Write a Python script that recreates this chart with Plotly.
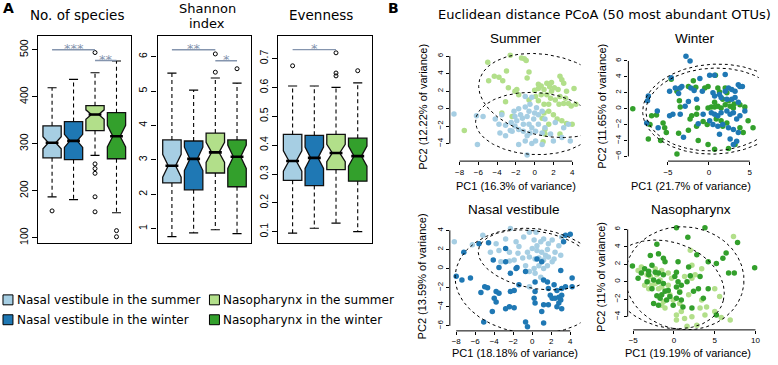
import numpy as np
import plotly.graph_objects as go

W, H = 778, 365

# ---------------- Panel A data (box statistics) ----------------
groups = ["Nasal vestibule in the summer", "Nasal vestibule in the winter",
          "Nasopharynx in the summer", "Nasopharynx in the winter"]
colors = ["#A6CEE3", "#1F78B4", "#B2DF8A", "#33A02C"]
positions = [1, 2, 3, 4]

sp_q1 = [270, 266, 328, 268]
sp_med = [302, 306, 362, 316]
sp_q3 = [338, 347, 381, 366]
sp_lo = [187, 181, 275, 153]
sp_hi = [419, 437, 451, 476]
sp_notch = [13, 14, 10, 23]
sp_out_x = [1, 3, 3, 3, 3, 3, 3, 4, 4]
sp_out_y = [157, 494, 257, 247, 237, 187, 155, 115, 102]

sh_q1 = [2.33, 2.13, 2.62, 2.22]
sh_med = [2.83, 3.03, 3.22, 3.09]
sh_q3 = [3.58, 3.55, 3.78, 3.58]
sh_lo = [0.77, 0.88, 0.97, 0.86]
sh_hi = [5.52, 5.03, 5.38, 5.23]
sh_notch = [0.33, 0.34, 0.29, 0.34]
sh_out_x = [3, 3, 4]
sh_out_y = [6.08, 5.55, 5.65]

ev_q1 = [0.278, 0.260, 0.315, 0.275]
ev_med = [0.345, 0.356, 0.373, 0.362]
ev_q3 = [0.437, 0.434, 0.437, 0.424]
ev_lo = [0.095, 0.112, 0.130, 0.100]
ev_hi = [0.605, 0.605, 0.600, 0.616]
ev_notch = [0.035, 0.037, 0.030, 0.035]
ev_out_x = [1, 3, 3, 3, 4]
ev_out_y = [0.675, 0.720, 0.650, 0.640, 0.658]

sp_sig = [(1, 3, 500, "***"), (3, 4, 477, "**")]
sh_sig = [(1, 3, 6.20, "**"), (3, 4, 5.88, "*")]
ev_sig = [(1, 3, 0.731, "*")]

# ---------------- Panel B data (PCoA scores) ----------------
su_ns_x = [-5.0, -2.6, -1.4, -1.1, -0.9, -3.0, -4.3, -3.8, -0.6, -0.8, -4.9, -3.4, -2.8, -2.1, -1.9,
           0.0, 0.4, 0.7, 1.3, 1.8, 2.7, 2.9, 1.6, 2.1, 2.5, 1.0, 1.8, 3.1, 4.2, 3.4, -1.7, 0.1, 0.7,
           1.3, 1.7, 2.2, 2.7, 3.3, -3.1, -0.6, 0.4, 1.0, 1.5, 2.6, 3.1, 3.6, 3.9, -3.5, -2.4, 1.0,
           1.5, 2.0, 0.8, 2.4, 2.9, 3.4, 4.0, 1.5, 1.1, -7.5, 1.1, 2.7, 0.9, 4.4, 0.4]
su_ns_y = [5.3, 6.1, 5.8, 5.7, 5.5, 4.3, 3.7, 3.6, 4.2, 3.5, 3.2, 3.2, 2.4, 2.0, 2.2,
           2.1, 2.3, 2.6, 2.9, 3.0, 3.7, 3.3, 2.5, 2.4, 2.2, 2.2, 2.0, 2.9, 2.3, 2.0, 1.6, 1.4, 1.6,
           1.6, 1.2, 1.0, 1.4, 1.2, 0.8, 1.0, 0.9, 0.5, 0.5, 0.5, 0.6, 0.6, 0.3, -0.5, -0.9, -0.5,
           -0.3, -0.7, -1.1, -1.2, -1.4, -1.7, -1.8, -1.8, -2.4, -2.5, -2.9, -2.9, -3.8, 0.5, 2.8]
su_nv_x = [-8.6, -6.1, -0.8, -6.2, -5.5, -4.2, -3.8, -3.1, -2.5, -1.9, -1.3, -0.8, -0.6, -1.0, -0.5,
           -1.7, -2.2, -3.5, 0.0, 0.4, 0.8, 0.2, -1.0, -0.3, -0.6, -0.3, 0.1, -0.5, -0.8, -1.2, -1.7,
           -2.1, -2.4, 0.4, 0.8, 1.1, 2.2, 1.7, 2.9, 2.0, 0.1, -0.3, 0.8, -3.1, -2.6, -3.7, 3.1, 3.6,
           -0.1, -1.2, -2.1, -1.5, 3.8, 1.1, -1.0, -1.7]
su_nv_y = [-0.6, -4.1, -5.3, -0.8, -0.9, -1.2, -1.8, -1.9, -1.6, -1.4, -1.1, -0.9, -0.3, 0.2, 0.5,
           0.0, -0.3, -0.7, -0.5, -0.7, -0.3, 0.1, 1.4, 1.3, -1.8, -2.2, -2.6, -2.8, -3.1, -2.6, -2.4,
           -2.0, -2.6, -1.8, -2.8, -2.2, -1.6, -2.9, -3.3, -3.7, -3.7, -4.0, -4.1, -3.1, -2.5, -2.8, -2.2, -1.8,
           -1.2, -1.8, -0.9, -0.7, -3.7, -1.2, -3.7, -4.1]

wi_nv_x = [-2.8, -2.3, -4.6, -1.1, 0.1, 0.7, 2.0, 3.6, -4.8, -4.1, -3.5, -3.3, -2.2, -1.8, -0.8,
           -2.5, -1.5, 0.5, 0.7, 1.3, 2.0, 2.4, 2.8, 3.2, 3.8, 4.1, 1.5, 2.2, 2.8, 3.2, 3.6, -7.4,
           -7.5, -6.3, -4.8, -4.4, -3.5, 0.3, 0.7, 1.1, 1.5, 2.2, 2.6, 3.0, 3.4, 3.8, 4.4, -1.3, 0.1,
           0.5, 1.1, 1.7, -6.2, -7.6, 2.4, 3.0, 3.6, 1.3, -3.1, 2.6, 3.4, 3.0, -2.9, -3.7, -0.7]
wi_nv_y = [6.6, 6.0, 3.9, 3.8, 4.2, 4.2, 4.3, 3.0, 2.2, 2.6, 2.6, 2.8, 2.6, 2.3, 2.2,
           0.9, 1.2, 2.0, 1.6, 1.8, 2.2, 2.6, 2.4, 2.2, 2.8, 2.8, 1.4, 1.2, 1.2, 1.4, 0.8, 1.6,
           1.0, -0.3, -0.9, -0.7, -0.7, -0.5, -0.7, -0.9, -0.5, -0.3, -0.7, -0.5, -1.3, -0.9, -0.3, -1.9, -1.5,
           -2.0, -2.2, -2.0, -2.4, -1.8, -2.4, -2.6, -3.0, -3.2, -3.6, -3.8, -4.1, -4.5, 0.3, 1.9, -0.7]
wi_np_x = [-9.3, -4.6, -3.9, -2.5, -0.1, 0.8, -0.5, -3.6, -3.5, -1.6, 1.1, 2.0, 2.2, 1.3, -0.1,
           0.3, 0.7, 1.1, 1.5, 2.0, 2.6, 3.0, 3.8, 4.4, 0.7, 1.7, 2.4, 3.1, -7.0, -6.4, -7.2, -5.6,
           -2.1, -1.5, -2.3, -0.7, -0.2, 0.9, 1.5, 2.2, 1.7, -5.4, -5.2, -3.7, -2.5, -1.5, 3.8, 4.2,
           5.4, -7.4, -5.9, -3.9, -1.3, 0.7, 2.4, 3.2, -0.1, -1.9, 4.8, -1.4]
wi_np_y = [0.0, 3.7, 2.2, 2.8, 2.8, 4.2, 2.6, 1.0, 0.2, 2.7, 2.6, 2.6, 2.0, 2.1, 0.1,
           0.2, 0.2, 0.3, 0.1, 0.5, 0.3, 0.1, 0.5, 0.2, 0.8, 1.2, 1.0, 0.6, -0.9, -0.8, -2.0, -1.8,
           -0.9, -0.7, -1.3, -1.6, -2.0, -1.3, -1.5, -1.8, -2.2, -2.4, -3.0, -3.1, -2.7, -2.2, -2.4, -3.0,
           -2.4, -3.8, -4.0, -5.7, -4.0, -5.1, -5.0, -4.5, -4.5, 3.5, -1.5, 0.1]

nv_su_x = [-8.2, -6.3, -5.2, -2.3, -0.3, 0.4, -3.8, -2.8, -1.7, -0.9, 0.2, 0.9, 1.2, 1.7, 2.1,
           2.8, 3.1, -4.4, -3.5, -2.4, -1.5, -0.5, 0.0, 0.5, 1.0, 1.6, 2.4, -3.3, -2.4, -1.9, -1.0,
           -0.3, 0.3, 0.7, 1.2, 1.7, 2.1, 0.2, 0.7, 1.2, 1.6, 0.3, 0.9, -0.3, -0.7, -0.3, 0.5, 1.4,
           2.3, -1.4, 3.0]
nv_su_y = [2.8, 2.5, 3.5, 4.2, 3.8, 3.8, 2.6, 3.1, 2.8, 3.3, 3.0, 2.8, 3.1, 2.6, 3.0,
           2.4, 3.3, 1.7, 1.9, 1.7, 1.6, 1.7, 2.1, 1.9, 1.7, 2.0, 1.7, 0.7, 0.8, 0.9, 1.1,
           1.2, 1.0, 1.1, 0.9, 1.2, 0.7, 0.0, 0.3, 0.0, 0.3, -0.5, -0.9, -0.3, 0.3, -1.9, 2.4, 1.4,
           1.0, 2.3, 1.4]
nv_wi_x = [-7.2, -5.6, -4.6, -8.0, -7.4, -6.5, -4.1, -2.8, -3.5, -2.3, -1.6, -0.7, -5.0, -4.7, -5.4,
           -3.8, -3.5, -2.3, -1.9, -4.0, -3.8, -2.4, -1.9, -4.2, -2.8, 0.3, 0.2, 0.3, 1.7, 1.2, 1.6,
           2.3, 2.6, 3.1, 3.5, 4.2, 4.2, 1.9, 2.1, 1.7, 1.2, 1.0, 2.4, 2.8, 3.1, 3.0, 2.8, 2.6, 3.1,
           -5.1, -0.7, -0.5, 1.2, 3.0, 1.0, 3.5, 4.0, 3.3, -1.7, -2.8, 0.3, 0.5, -1.4]
nv_wi_y = [1.7, 2.6, 2.7, -0.8, -1.2, -1.0, 0.9, 2.1, 0.1, -0.5, 0.1, -0.3, -1.9, -2.0, -2.5,
           -2.4, -2.6, -2.4, -2.3, -3.1, -3.5, -4.0, -4.1, -4.5, -4.2, -2.4, -3.1, -3.6, -2.1, -1.2, -1.4,
           -1.7, -2.3, -2.1, -1.9, -1.0, -1.9, -2.8, -3.1, -3.8, -3.8, -4.5, -3.1, -3.0, -2.8, -3.3, -3.6, -4.0, -4.2,
           -5.6, -5.6, -6.1, -5.7, -0.2, 0.7, 3.5, 3.6, 2.8, 0.0, 0.7, -1.4, 1.0, -1.7]

np_su_x = [7.3, 2.0, 2.2, -4.4, -4.0, -3.3, -2.9, -3.6, -3.1, -1.5, -0.7, -0.3, -2.7, -2.3, -1.9,
           -1.5, -0.7, -0.9, -0.5, -0.1, 0.7, 1.3, 2.2, 2.6, 3.4, 3.2, 5.0, 5.6, -1.5, -1.1, 0.3,
           0.9, 2.2, 3.8, 5.0, 5.8, 1.6, 2.8, 6.9, -2.3, -4.0, -1.7, -2.1, -1.3, 1.8, 1.3, 3.4, 4.0,
           0.3, -3.2, 0.7]
np_su_y = [5.2, 3.6, 1.9, 1.3, 1.7, 0.8, 0.6, -0.4, -0.8, 1.3, 1.0, 0.4, -0.4, -0.2, -0.8,
           -0.6, -0.4, -1.0, -1.5, -2.1, -2.5, 0.6, 0.4, 0.8, 1.5, -3.0, -0.8, -1.7, -2.7, -3.0, -3.8,
           -3.4, -4.0, -3.8, -3.4, -4.1, -5.1, -5.0, -4.4, 1.5, 1.1, 0.2, 0.8, -2.3, -1.5, -4.2, -2.1, -2.9,
           -4.4, 0.0, -1.1]
np_wi_x = [0.3, 3.8, 1.7, 7.8, 6.4, 9.9, -2.1, -1.9, -2.9, -5.1, -3.6, -3.1, -2.7, -1.3, -1.1,
           0.5, 1.8, 5.2, 6.0, 6.7, 7.4, -4.0, -3.1, -2.3, -1.9, -1.3, -4.4, -3.3, -2.5, -1.9, -1.3,
           0.3, 0.1, 0.5, 0.9, 1.6, 2.0, 3.2, -2.7, -2.1, -1.5, -1.1, -0.7, -1.7, -0.9, -0.5, 0.3,
           0.9, -2.5, -1.9, -0.1, 0.3, 0.7, 2.2, 3.6, 4.2, 5.2, 2.4, 3.0, 2.8, 4.2, 1.1]
np_wi_y = [6.2, 6.2, 5.1, 4.5, 3.3, 1.6, 4.3, 3.2, 3.0, 1.8, 1.5, 1.2, 1.9, 2.7, 2.3,
           2.3, 1.7, 2.1, 2.7, 1.0, 1.0, 1.0, 0.8, 1.1, 1.0, 0.8, 0.4, 0.0, 0.2, 0.0, -0.2,
           1.1, 0.6, 0.0, -0.4, 0.0, 0.7, 0.6, -0.8, -1.6, -1.5, -1.1, -1.0, -1.9, -2.1, -1.7, -1.9,
           -2.1, -2.5, -2.7, -2.7, -0.6, -1.2, -3.0, -1.9, -0.8, -3.8, -1.1, -0.8, 3.1, 2.3, -2.9]

# ellipse parameters: centre x, centre y, semi-axis a, semi-axis b, angle (deg)
su_ell = [(1.3, 1.5, 7.4, 4.6, -14), (0.0, -1.7, 6.3, 3.55, -3)]
wi_ell = [(0.75, -0.05, 8.85, 5.65, 3), (0.55, -0.1, 8.25, 5.2, 3)]
nv_ell = [(0.45, 0.9, 6.2, 3.0, -10), (-0.13, -1.3, 8.0, 5.5, -5)]
np_ell = [(1.3, 0.4, 7.3, 5.9, -5), (-0.9, -0.3, 7.2, 4.9, -15)]

# ---------------- figure ----------------
fig = go.Figure()

def fx(px):
    return px / W

def fy(py):
    return 1 - py / H

BOXW = 0.85
NOTCHW = 0.3
CAPHW = 0.21

def add_boxes(ax, q1, med, q3, lo, hi, notch, out_x, out_y, sig):
    xa, ya = "x" + ("" if ax == 1 else str(ax)), "y" + ("" if ax == 1 else str(ax))
    for i in range(4):
        fig.add_trace(go.Box(
            x=[positions[i]], q1=[q1[i]], median=[med[i]], q3=[q3[i]],
            lowerfence=[q1[i]], upperfence=[q3[i]], notchspan=[notch[i]],
            notched=True, notchwidth=NOTCHW, width=BOXW, whiskerwidth=0,
            fillcolor=colors[i], line=dict(color="#111111", width=1.3),
            boxpoints=False, showlegend=False, hoverinfo="skip",
            xaxis=xa, yaxis=ya))
    wx, wy = [], []
    cx, cy = [], []
    mx, my = [], []
    for i in range(4):
        p = positions[i]
        wx += [p, p, None, p, p, None]
        wy += [q3[i], hi[i], None, q1[i], lo[i], None]
        cx += [p - CAPHW, p + CAPHW, None, p - CAPHW, p + CAPHW, None]
        cy += [hi[i], hi[i], None, lo[i], lo[i], None]
        hw = BOXW / 2 * (1 - NOTCHW)
        mx += [p - hw, p + hw, None]
        my += [med[i], med[i], None]
    fig.add_trace(go.Scatter(x=wx, y=wy, mode="lines", line=dict(color="black", width=1.1, dash="4px,3px"),
                             showlegend=False, hoverinfo="skip", xaxis=xa, yaxis=ya))
    fig.add_trace(go.Scatter(x=cx, y=cy, mode="lines", line=dict(color="black", width=1.2),
                             showlegend=False, hoverinfo="skip", xaxis=xa, yaxis=ya))
    fig.add_trace(go.Scatter(x=mx, y=my, mode="lines", line=dict(color="black", width=2.6),
                             showlegend=False, hoverinfo="skip", xaxis=xa, yaxis=ya))
    fig.add_trace(go.Scatter(x=out_x, y=out_y, mode="markers",
                             marker=dict(symbol="circle-open", size=4, color="black", line=dict(width=1)),
                             showlegend=False, hoverinfo="skip", xaxis=xa, yaxis=ya))
    for (a, b, yv, txt) in sig:
        fig.add_trace(go.Scatter(x=[a, b], y=[yv, yv], mode="lines", line=dict(color="#8595ae", width=1.4),
                                 showlegend=False, hoverinfo="skip", xaxis=xa, yaxis=ya))
        fig.add_annotation(x=(a + b) / 2, y=yv, xref=xa, yref=ya, text=txt, showarrow=False,
                           font=dict(family="DejaVu Sans", size=13, color="#8595ae"),
                           yanchor="middle", yshift=1)

add_boxes(1, sp_q1, sp_med, sp_q3, sp_lo, sp_hi, sp_notch, sp_out_x, sp_out_y, sp_sig)
add_boxes(2, sh_q1, sh_med, sh_q3, sh_lo, sh_hi, sh_notch, sh_out_x, sh_out_y, sh_sig)
add_boxes(3, ev_q1, ev_med, ev_q3, ev_lo, ev_hi, ev_notch, ev_out_x, ev_out_y, ev_sig)

def ellipse(cx, cy, a, b, ang):
    t = np.linspace(0, 2 * np.pi, 240)
    th = np.radians(ang)
    x = cx + a * np.cos(t) * np.cos(th) - b * np.sin(t) * np.sin(th)
    y = cy + a * np.cos(t) * np.sin(th) + b * np.sin(t) * np.cos(th)
    return x, y

def add_scatter(ax, series, ells):
    xa, ya = "x" + str(ax), "y" + str(ax)
    for (xs, ys, c) in series:
        fig.add_trace(go.Scatter(x=xs, y=ys, mode="markers", marker=dict(size=5.5, color=c),
                                 showlegend=False, hoverinfo="skip", xaxis=xa, yaxis=ya))
    for e in ells:
        ex, ey = ellipse(*e)
        fig.add_trace(go.Scatter(x=ex, y=ey, mode="lines", line=dict(color="black", width=1.0, dash="dot"),
                                 showlegend=False, hoverinfo="skip", xaxis=xa, yaxis=ya))

add_scatter(4, [(su_ns_x, su_ns_y, colors[2]), (su_nv_x, su_nv_y, colors[0])], su_ell)
add_scatter(5, [(wi_np_x, wi_np_y, colors[3]), (wi_nv_x, wi_nv_y, colors[1])], wi_ell)
add_scatter(6, [(nv_su_x, nv_su_y, colors[0]), (nv_wi_x, nv_wi_y, colors[1])], nv_ell)
add_scatter(7, [(np_su_x, np_su_y, colors[2]), (np_wi_x, np_wi_y, colors[3])], np_ell)

# ---------------- axes ----------------
tickfA = dict(family="Liberation Sans", size=10.5, color="black")
def box_axes(n, x0, x1, yr, yt):
    s = "" if n == 1 else str(n)
    return {
        "xaxis" + s: dict(domain=[fx(x0), fx(x1)], range=[0.34, 4.66], anchor="y" + s,
                          showticklabels=False, ticks="", showgrid=False, zeroline=False,
                          showline=True, mirror=True, linecolor="black", linewidth=1.2),
        "yaxis" + s: dict(domain=[fy(244), fy(36)], range=yr, anchor="x" + s, tickvals=yt,
                          ticks="outside", ticklen=5, tickcolor="black", tickangle=-90, tickfont=tickfA,
                          showgrid=False, zeroline=False, showline=True, mirror=True,
                          linecolor="black", linewidth=1.2),
    }

layout_axes = {}
layout_axes.update(box_axes(1, 38, 131, [89.4, 529.6], [100, 200, 300, 400, 500]))
layout_axes.update(box_axes(2, 158, 252, [0.595, 6.607], [1, 2, 3, 4, 5, 6]))
layout_axes.update(box_axes(3, 279, 373, [0.062, 0.779], [0.1, 0.2, 0.3, 0.4, 0.5, 0.6, 0.7]))

tickfB = dict(family="Liberation Sans", size=8, color="black")
def pc_axes(n, x0, x1, y0, y1, xr, yr, xt, yt):
    s = str(n)
    return {
        "xaxis" + s: dict(domain=[fx(x0), fx(x1)], range=xr, anchor="y" + s, tickvals=xt,
                          ticks="outside", ticklen=3, tickcolor="black", tickfont=tickfB,
                          showgrid=False, zeroline=False, showline=False),
        "yaxis" + s: dict(domain=[fy(y1), fy(y0)], range=yr, anchor="x" + s, tickvals=yt,
                          ticks="outside", ticklen=3, tickcolor="black", tickfont=tickfB, tickangle=-90,
                          showgrid=False, zeroline=False, showline=False),
    }

su_xt, su_yt = [-8, -6, -4, -2, 0, 2, 4], [-4, -2, 0, 2, 4, 6]
wi_xt, wi_yt = [-5, 0, 5], [-6, -4, -2, 0, 2, 4, 6]
nv_xt, nv_yt = [-8, -6, -4, -2, 0, 2, 4], [-6, -4, -2, 0, 2, 4]
np_xt, np_yt = [-5, 0, 5, 10], [-4, -2, 0, 2, 4, 6]

layout_axes.update(pc_axes(4, 451, 582, 52.5, 162, [-9.04, 4.89], [-6.0, 6.45], su_xt, su_yt))
layout_axes.update(pc_axes(5, 630, 760.7, 53, 162, [-9.84, 6.1], [-6.59, 7.04], wi_xt, wi_yt))
layout_axes.update(pc_axes(6, 451, 582, 225, 332.7, [-8.67, 5.08], [-6.53, 4.69], nv_xt, nv_yt))
layout_axes.update(pc_axes(7, 629.3, 760.7, 225, 331.7, [-5.68, 10.4], [-5.52, 6.65], np_xt, np_yt))

shapes = []
for n, xt, yt in [(4, su_xt, su_yt), (5, wi_xt, wi_yt), (6, nv_xt, nv_yt), (7, np_xt, np_yt)]:
    shapes.append(dict(type="line", xref="x%d domain" % n, yref="y%d" % n, x0=0, x1=0,
                       y0=min(yt), y1=max(yt), line=dict(color="black", width=1)))
    shapes.append(dict(type="line", xref="x%d" % n, yref="y%d domain" % n, y0=0, y1=0,
                       x0=min(xt), x1=max(xt), line=dict(color="black", width=1)))

leg_pos = [(3, 296.5, 15, 301.5), (3, 316.5, 15, 321.5), (210, 296.5, 222, 301.5), (210, 316.5, 222, 321.5)]
for i, (sx, sy, tx, ty) in enumerate(leg_pos):
    shapes.append(dict(type="rect", xref="paper", yref="paper", x0=fx(sx), x1=fx(sx + 10),
                       y0=fy(sy + 10), y1=fy(sy), fillcolor=colors[i], line=dict(color="black", width=1)))

def ann(text, x, y, size, family="Liberation Sans", xanchor="center", angle=0, bold=False):
    fig.add_annotation(x=fx(x), y=fy(y), xref="paper", yref="paper", text=("<b>%s</b>" % text) if bold else text,
                       showarrow=False, xanchor=xanchor, yanchor="middle", textangle=angle,
                       font=dict(family=family, size=size, color="black"))

for i, (sx, sy, tx, ty) in enumerate(leg_pos):
    ann(groups[i], tx, ty, 12, "DejaVu Sans", xanchor="left")

ann("A", 1, 8, 14, "DejaVu Sans", xanchor="left", bold=True)
ann("B", 387, 8, 14, "DejaVu Sans", xanchor="left", bold=True)
ann("No. of species", 77, 15, 13.5, "DejaVu Sans")
ann("Shannon", 208, 9, 13, "DejaVu Sans")
ann("index", 208, 24, 13, "DejaVu Sans")
ann("Evenness", 322, 15, 13.5, "DejaVu Sans")

ann("Euclidean distance PCoA (50 most abundant OTUs)", 606, 15, 13, "DejaVu Sans")
ann("Summer", 517, 39, 13.5)
ann("Winter", 697, 39, 13.5)
ann("Nasal vestibule", 515, 211, 13.5)
ann("Nasopharynx", 693, 211, 13.5)
ann("PC1 (16.3% of variance)", 517, 187, 11)
ann("PC1 (21.7% of variance)", 693, 187, 11)
ann("PC1 (18.18% of variance)", 516, 355, 11)
ann("PC1 (19.19% of variance)", 690, 355, 11)
ann("PC2 (12.22% of variance)", 424.5, 107, 11, angle=-90)
ann("PC2 (11.65% of variance)", 604, 107, 11, angle=-90)
ann("PC2 (13.59% of variance)", 424, 278, 11, angle=-90)
ann("PC2 (11% of variance)", 603, 278, 11, angle=-90)

fig.update_layout(
    width=W, height=H, margin=dict(l=0, r=0, t=0, b=0),
    paper_bgcolor="white", plot_bgcolor="white", boxmode="overlay",
    shapes=shapes, showlegend=False, **layout_axes)

fig.write_html("out.html", config={"displayModeBar": False},
               post_script="document.body.style.margin='0';document.body.style.padding='0';")
